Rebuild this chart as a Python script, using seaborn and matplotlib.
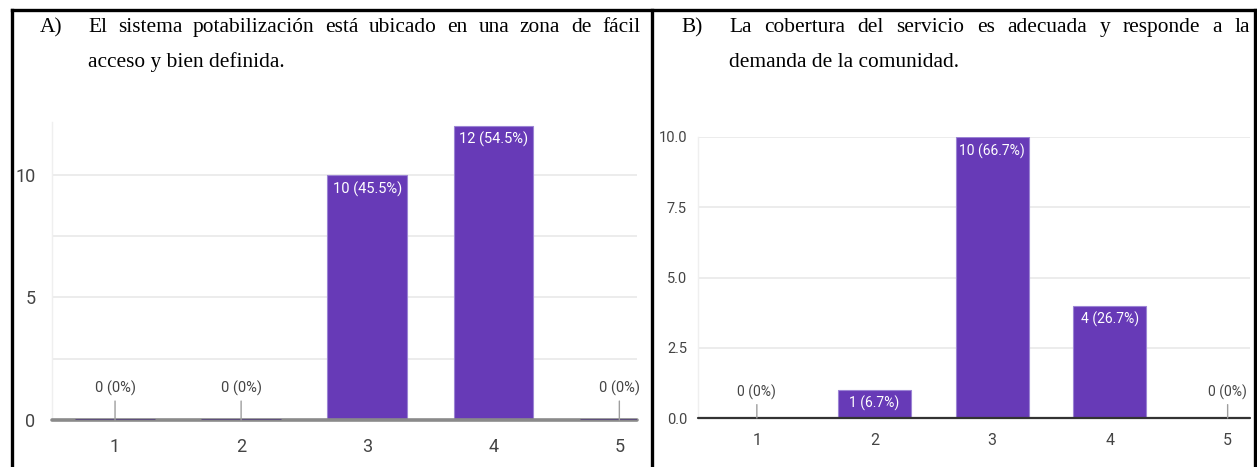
import matplotlib
matplotlib.use("Agg")
import matplotlib.pyplot as plt
import seaborn as sns

# ---- data ---------------------------------------------------------------
categories = ["1", "2", "3", "4", "5"]
values_a = [0, 0, 10, 12, 0]
values_b = [0, 1, 10, 4, 0]
yticks_a = [0, 5, 10]
yticks_b = [0.0, 2.5, 5.0, 7.5, 10.0]
ytick_labels_b = ["0.0", "2.5", "5.0", "7.5", "10.0"]

label_a = "A)"
title_a = ["El sistema potabilización está ubicado en una zona de fácil",
           "acceso y bien definida."]
label_b = "B)"
title_b = ["La cobertura del servicio es adecuada y responde a la",
           "demanda de la comunidad."]

# ---- style --------------------------------------------------------------
PURPLE = "#673ab7"
W, H = 1257, 467
sns.set_theme(style="white")
NARROW = ["Roboto", "DejaVu Sans"]
SERIF = ["Liberation Serif", "DejaVu Serif"]
plt.rcParams["font.family"] = NARROW

fig = plt.figure(figsize=(W / 100, H / 100), dpi=100)
fig.patch.set_facecolor("white")


def px_axes(left, top, right, bottom):
    return fig.add_axes([left / W, 1 - bottom / H, (right - left) / W, (bottom - top) / H])


def pct_text(v, total):
    pct = f"{100 * v / total:.1f}"
    if pct.endswith(".0"):
        pct = pct[:-2]
    return f"{v} ({pct}%)"


def bar_panel(ax, values, width, xmax, ymax, yticks, yticklabels, minor,
              base_color, base_lw, zero_color, xpad, ypad, fs, yfs, lfs, lead):
    sns.barplot(x=categories, y=values, order=categories, ax=ax, color=PURPLE,
                saturation=1, width=width, edgecolor="#9c84d4", linewidth=0.8,
                zorder=3)
    total = sum(values)
    ax.set_xlim(-0.5, xmax)
    ax.set_ylim(0, ymax)
    ax.set_yticks(yticks)
    ax.set_yticklabels(yticklabels)
    ax.set_yticks(minor, minor=True)
    ax.grid(axis="y", which="both", color="#ebebeb", lw=1.3, zorder=0)
    ax.grid(axis="x", visible=False)
    ax.set_axisbelow(True)
    for s in ("top", "right", "bottom"):
        ax.spines[s].set_visible(False)
    ax.spines["left"].set_color("#efefef")
    ax.spines["left"].set_linewidth(1)
    ax.axhline(0, color=base_color, lw=base_lw, zorder=4, clip_on=False)
    ax.set_xlabel("")
    ax.set_ylabel("")
    ax.tick_params(axis="both", length=0, colors="#444444")
    ax.tick_params(axis="x", pad=xpad, labelsize=fs)
    ax.tick_params(axis="y", pad=ypad, labelsize=yfs)
    for lab in ax.get_xticklabels() + ax.get_yticklabels():
        lab.set_fontfamily(NARROW)

    for patch, v in zip(ax.patches, values):
        xc = patch.get_x() + patch.get_width() / 2
        if v == 0:
            if zero_color is not None:
                patch.set_edgecolor(zero_color)
                patch.set_linewidth(2.2)
                patch.set_zorder(5)
            else:
                patch.set_linewidth(0)
            ax.annotate(pct_text(v, total), xy=(xc, 0), xytext=(0, lead),
                        textcoords="offset points", ha="center", va="bottom",
                        fontsize=lfs, color="#444444", fontfamily=NARROW,
                        arrowprops=dict(arrowstyle="-", color="#9e9e9e", lw=1,
                                        shrinkA=1, shrinkB=0),
                        annotation_clip=False, zorder=6)
        else:
            ax.annotate(pct_text(v, total), xy=(xc, v), xytext=(0, -4.5),
                        textcoords="offset points", ha="center", va="top",
                        fontsize=lfs, color="white", fontfamily=NARROW,
                        zorder=6)


ax_a = px_axes(52, 122, 637, 420)
bar_panel(ax_a, values_a, 0.63, 4.14, 12.16, yticks_a, [str(t) for t in yticks_a],
          [2.5, 7.5], "#8a8a8a", 2.6, "#5d4f7c", 13, 12, 13, 13, 10.5, 17)

ax_b = px_axes(698, 137, 1250, 418)
bar_panel(ax_b, values_b, 0.62, 4.19, 10.0, yticks_b, ytick_labels_b,
          [], "#333333", 1.6, None, 11, 8, 11.5, 10.5, 10, 13)

# ---- table frame --------------------------------------------------------
frame = dict(color="black", lw=2.4, solid_capstyle="projecting")
fig.add_artist(plt.Line2D([12 / W, 1256 / W], [1 - 10 / H, 1 - 10 / H], transform=fig.transFigure, **frame))
for xp in (12, 652, 1255):
    fig.add_artist(plt.Line2D([xp / W, xp / W], [1 - 10 / H, 0], transform=fig.transFigure, **frame))

# ---- justified serif captions ------------------------------------------
renderer = fig.canvas.get_renderer()
TKW = dict(fontfamily=SERIF, fontsize=15.4, color="black", ha="left", va="baseline")


def caption(tag, lines, tag_x, x0, x1):
    fig.text(tag_x / W, 1 - 32 / H, tag, **TKW)
    words = lines[0].split()
    texts = [fig.text(0, 0, w, **TKW) for w in words]
    widths = [t.get_window_extent(renderer).width for t in texts]
    gap = (x1 - x0 - sum(widths)) / (len(words) - 1)
    x = x0
    for t, w in zip(texts, widths):
        t.set_position((x / W, 1 - 32 / H))
        x += w + gap
    fig.text(x0 / W, 1 - 67 / H, lines[1], **TKW)


caption(label_a, title_a, 40, 88, 640)
caption(label_b, title_b, 681, 729, 1250)

fig.savefig("out.png", dpi=100, facecolor="white")
